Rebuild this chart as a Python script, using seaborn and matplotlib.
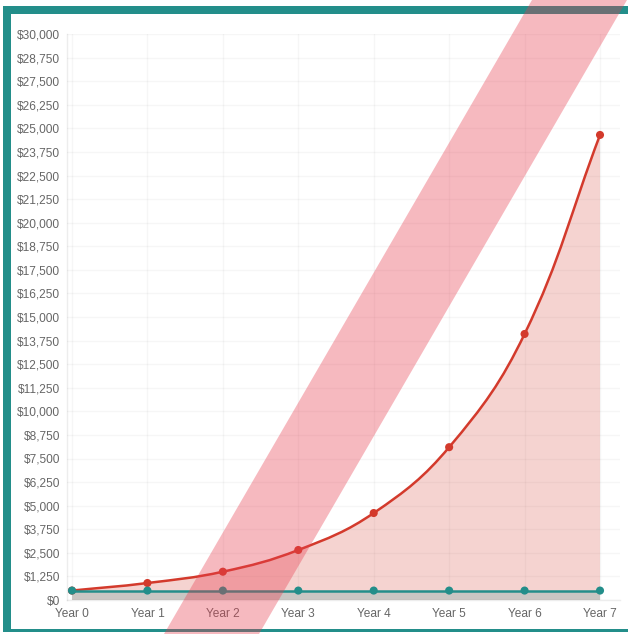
import numpy as np
import matplotlib
matplotlib.use("Agg")
import matplotlib.pyplot as plt
import seaborn as sns
from matplotlib.path import Path
from matplotlib.patches import PathPatch, Rectangle, Polygon
from matplotlib.ticker import FuncFormatter

# ------------------------------------------------------------
# Data
# ------------------------------------------------------------

years = [0, 1, 2, 3, 4, 5, 6, 7]
year_labels = ["Year 0", "Year 1", "Year 2", "Year 3", "Year 4", "Year 5", "Year 6", "Year 7"]
growth_values = [500, 900, 1500, 2650, 4610, 8100, 14100, 24650]
flat_values = [500, 500, 500, 500, 500, 500, 500, 500]
y_ticks = list(range(0, 30001, 1250))

RED = "#d33a2c"
TEAL = "#238e8a"
W, H = 628, 634

# ------------------------------------------------------------
# Figure
# ------------------------------------------------------------

sns.set_theme(style="white")
plt.rcParams["font.family"] = ["Liberation Sans", "DejaVu Sans"]

fig = plt.figure(figsize=(W / 100, H / 100), dpi=100)
ax = fig.add_axes([67 / W, 34 / H, 553 / W, 566 / H])
ax.set_xlim(-0.066, 7.265)
ax.set_ylim(0, 30000)

# grid
for y in y_ticks:
    ax.axhline(y, color="#000000", alpha=0.035, lw=1, zorder=0)
for x in years:
    ax.axvline(x, color="#000000", alpha=0.035, lw=1, zorder=0)

# smooth curve (Chart.js style bezier, tension 0.4) in pixel space
pts = ax.transData.transform(np.column_stack([years, growth_values]))
n = len(pts)
tension = 0.4
inner, outer = [], []
for i in range(n):
    cur = pts[i]
    prev = pts[i - 1] if i > 0 else cur
    nxt = pts[i + 1] if i < n - 1 else cur
    d01 = np.hypot(*(cur - prev))
    d12 = np.hypot(*(nxt - cur))
    tot = d01 + d12
    fa = tension * d01 / tot
    fb = tension * d12 / tot
    inner.append(cur - fa * (nxt - prev))
    outer.append(cur + fb * (nxt - prev))

verts = [pts[0]]
codes = [Path.MOVETO]
for i in range(n - 1):
    verts += [outer[i], inner[i + 1], pts[i + 1]]
    codes += [Path.CURVE4] * 3
inv = ax.transData.inverted()
verts_data = inv.transform(np.array(verts))

line_path = Path(verts_data, codes)
area_verts = list(verts_data) + [(years[-1], 0), (years[0], 0), verts_data[0]]
area_codes = codes + [Path.LINETO, Path.LINETO, Path.CLOSEPOLY]
area_path = Path(area_verts, area_codes)

ax.add_patch(PathPatch(area_path, facecolor=RED, alpha=0.22, edgecolor="none", zorder=1))
ax.fill_between(years, 0, flat_values, color="#c9c6c3", lw=0, zorder=2)
ax.add_patch(PathPatch(line_path, facecolor="none", edgecolor=RED, lw=1.8, zorder=3))

sns.scatterplot(x=years, y=growth_values, color=RED, s=34, edgecolor="none", ax=ax, zorder=4)
sns.lineplot(x=years, y=flat_values, color=TEAL, lw=1.8, ax=ax, zorder=5)
sns.scatterplot(x=years, y=flat_values, color=TEAL, s=34, edgecolor="none", ax=ax, zorder=6)

# axes
ax.set_xticks(years)
ax.set_xticklabels(year_labels)
ax.set_yticks(y_ticks)
ax.yaxis.set_major_formatter(FuncFormatter(lambda v, p: f"${int(v):,}"))
ax.tick_params(axis="both", length=0, labelsize=8.6, labelcolor="#666666")
ax.tick_params(axis="y", pad=5)
ax.tick_params(axis="x", pad=6)
for side in ["top", "right"]:
    ax.spines[side].set_visible(False)
for side in ["left", "bottom"]:
    ax.spines[side].set_color("#000000")
    ax.spines[side].set_alpha(0.07)
    ax.spines[side].set_linewidth(1)
ax.set_xlabel("")
ax.set_ylabel("")


# ------------------------------------------------------------
# Frame and diagonal band (figure pixel coords from top-left)
# ------------------------------------------------------------

def fig_rect(x0, y0, x1, y1, **kw):
    fig.add_artist(Rectangle((x0 / W, 1 - y1 / H), (x1 - x0) / W, (y1 - y0) / H,
                             transform=fig.transFigure, lw=0, **kw))


fig_rect(3, 6, 11, 632, color=TEAL, zorder=10)
fig_rect(3, 6, W, 14, color=TEAL, zorder=10)
fig_rect(3, 629, W, 632, color=TEAL, zorder=10)

band = [(164, H), (259, H), (627, 0), (532, 0)]
fig.add_artist(Polygon([(x / W, 1 - y / H) for x, y in band], closed=True,
                       transform=fig.transFigure, facecolor=(0.91, 0.24, 0.31),
                       alpha=0.36, lw=0, zorder=11))

fig.savefig("out.png", dpi=100)
